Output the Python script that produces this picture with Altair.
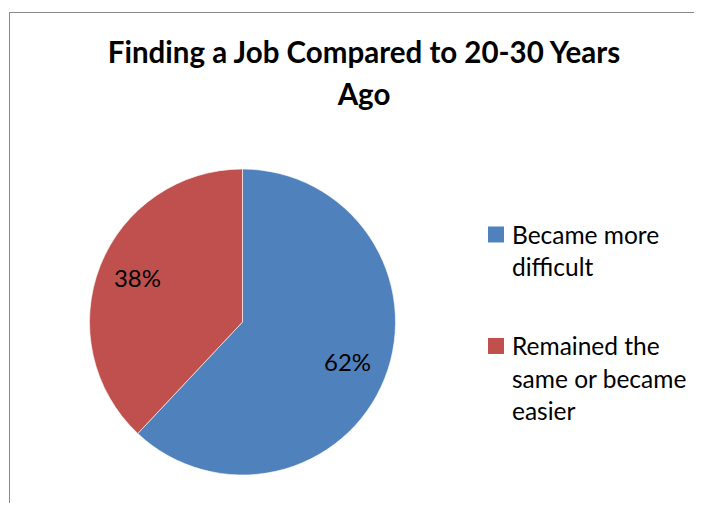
import altair as alt
import pandas as pd

title_lines = ["Finding a Job Compared to 20-30 Years", "Ago"]
categories = ["Became more difficult", "Remained the same or became easier"]
legend_labels = ["Became more\ndifficult", "Remained the\nsame or became\neasier"]
values = [62, 38]
slice_order = [0, 1]
colors = ["#4F81BD", "#C0504D"]

df = pd.DataFrame({
    "category": categories,
    "value": values,
    "legend": legend_labels,
    "order": slice_order,
})

color = alt.Color("category:N", scale=alt.Scale(domain=categories, range=colors), legend=None)
base = alt.Chart(df)

pie = base.mark_arc(outerRadius=153, stroke="#ffffff", strokeWidth=0.6).encode(
    theta=alt.Theta("value:Q", stack=True),
    order=alt.Order("order:Q"),
    color=color,
)

labels = base.transform_calculate(label="datum.value + '%'").mark_text(
    radius=113, font="Lato", fontSize=24, color="#000000"
).encode(
    theta=alt.Theta("value:Q", stack=True),
    order=alt.Order("order:Q"),
    text="label:N",
)

ly = alt.Y("category:N", scale=alt.Scale(domain=categories, range=[76.5, 188], type="point", padding=0), axis=None)

leg_sq = base.mark_square(size=256, opacity=1).encode(
    x=alt.value(488), y=ly, color=color
)
leg_tx = base.mark_text(
    align="left", baseline="top", dy=-10, lineBreak="\n", lineHeight=32.5,
    font="Lato", fontSize=24.5, color="#000000"
).encode(x=alt.value(504), y=ly, text="legend:N")

border_top = base.mark_rule(color="#8a8a8a", strokeWidth=1).encode(
    x=alt.value(1.5), x2=alt.value(686), y=alt.value(-145.5)
)
border_left = base.mark_rule(color="#8a8a8a", strokeWidth=1).encode(
    x=alt.value(1.5), y=alt.value(-145.5), y2=alt.value(345)
)

chart = alt.layer(border_top, border_left, pie, labels, leg_sq, leg_tx).properties(
    width=469,
    height=328,
    title=alt.Title(
        title_lines, font="Lato", fontSize=29.5, fontWeight="bold", color="#000000",
        anchor="middle", frame="group", dx=121.5, offset=-128, baseline="bottom", lineHeight=42,
    ),
    autosize=alt.AutoSizeParams(type="none"),
    padding={"left": 0, "top": 150, "right": 217, "bottom": 17},
).configure(background="white").configure_view(stroke=None)

chart.save("out.html", embed_options={"renderer": "svg", "actions": False})
